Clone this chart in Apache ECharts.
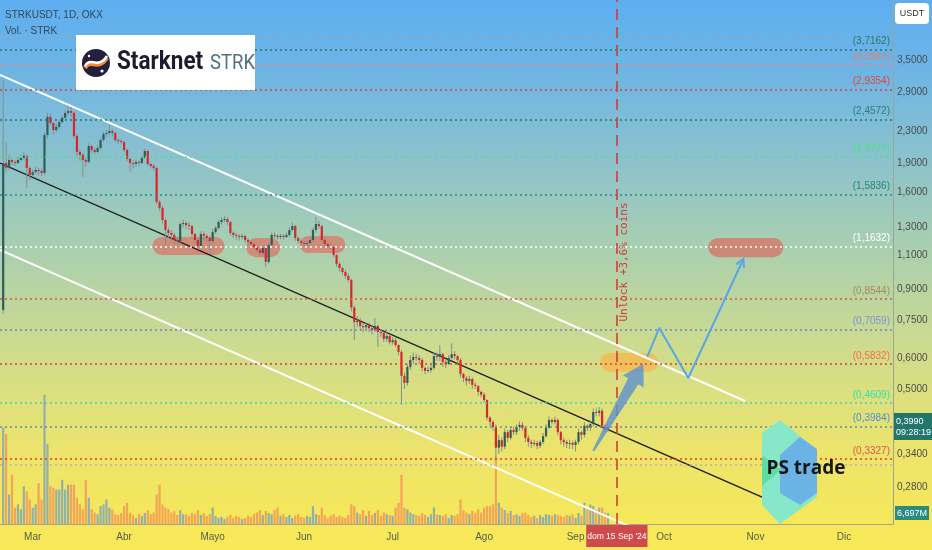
<!DOCTYPE html>
<html><head><meta charset="utf-8">
<script src="https://cdn.jsdelivr.net/npm/echarts@6/dist/echarts.min.js"></script>
<style>
html,body{margin:0;padding:0;background:#f8e95a;}
#c{width:932px;height:550px;background:linear-gradient(to bottom,#5eaef0 0%,#6cb4e6 12%,#88c0cf 27%,#a9cfb0 45%,#cfdc8c 64%,#ece46c 82%,#f6e85a 95%,#f8e95a 100%);}
</style></head><body><div id="c"></div>
<script>
// day index relative to 2024-03-01; first candle = 2024-02-20
const firstDay = -10;
// [open, close, low, high]
const candles = [
[0.797,1.903,0.78,3.109],[1.903,1.85,1.80,2.154],[1.85,1.937,1.83,2.00],[1.937,1.915,1.88,1.96],[1.915,1.903,1.87,1.94],
[1.903,1.937,1.89,1.97],[1.937,1.962,1.92,2.00],[1.962,1.985,1.94,2.03],[1.985,1.848,1.64,2.00],[1.848,1.773,1.72,1.86],
[1.773,1.804,1.75,1.83],[1.804,1.826,1.78,1.86],[1.826,1.815,1.77,1.85],[1.815,1.794,1.76,1.84],[1.794,2.246,1.77,2.28],
[2.246,2.501,2.20,2.559],[2.501,2.411,2.38,2.55],[2.411,2.313,2.25,2.42],[2.313,2.355,2.28,2.40],[2.355,2.425,2.33,2.45],
[2.425,2.487,2.40,2.52],[2.487,2.559,2.47,2.60],[2.559,2.588,2.52,2.67],[2.588,2.559,2.50,2.65],[2.559,2.233,2.20,2.57],
[2.233,2.031,1.98,2.25],[2.031,1.996,1.93,2.06],[1.996,1.937,1.752,2.02],[1.937,1.915,1.86,1.96],[1.915,2.104,1.90,2.14],
[2.104,2.055,2.02,2.12],[2.055,2.031,2.00,2.08],[2.031,2.079,2.01,2.11],[2.079,2.180,2.06,2.21],[2.180,2.260,2.16,2.29],
[2.260,2.273,2.22,2.31],[2.273,2.300,2.24,2.383],[2.300,2.273,2.23,2.33],[2.273,2.180,2.15,2.29],[2.180,2.167,2.13,2.20],
[2.167,2.154,2.12,2.19],[2.154,2.055,2.03,2.17],[2.055,1.950,1.92,2.07],[1.950,1.903,1.804,1.96],[1.903,1.892,1.84,1.93],
[1.892,1.915,1.86,1.94],[1.915,1.903,1.87,1.93],[1.903,1.962,1.89,1.98],[1.962,2.043,1.95,2.07],[2.043,1.892,1.87,2.06],
[1.892,1.870,1.84,1.91],[1.870,1.848,1.82,1.89],[1.848,1.511,1.49,1.86],[1.511,1.459,1.43,1.53],[1.459,1.358,1.33,1.48],
[1.358,1.280,1.137,1.37],[1.280,1.258,1.22,1.30],[1.258,1.243,1.21,1.28],[1.243,1.206,1.18,1.26],[1.206,1.199,1.17,1.23],
[1.199,1.326,1.19,1.34],[1.326,1.334,1.30,1.36],[1.334,1.318,1.29,1.35],[1.318,1.310,1.28,1.34],[1.310,1.250,1.23,1.32],
[1.250,1.206,1.18,1.26],[1.206,1.164,1.14,1.22],[1.164,1.250,1.15,1.27],[1.250,1.236,1.21,1.27],[1.236,1.221,1.19,1.25],
[1.221,1.199,1.124,1.24],[1.199,1.265,1.18,1.29],[1.265,1.295,1.25,1.31],[1.295,1.342,1.28,1.36],[1.342,1.358,1.32,1.38],
[1.358,1.366,1.34,1.39],[1.366,1.342,1.32,1.38],[1.342,1.258,1.24,1.35],[1.258,1.243,1.22,1.27],[1.243,1.236,1.21,1.26],
[1.236,1.228,1.20,1.25],[1.228,1.236,1.21,1.25],[1.236,1.206,1.19,1.24],[1.206,1.192,1.17,1.22],[1.192,1.178,1.16,1.20],
[1.178,1.157,1.14,1.19],[1.157,1.137,1.12,1.17],[1.137,1.117,1.10,1.15],[1.117,1.151,1.10,1.17],[1.151,1.059,1.028,1.16],
[1.059,1.171,1.05,1.19],[1.171,1.243,1.16,1.26],[1.243,1.236,1.22,1.26],[1.236,1.228,1.21,1.25],[1.228,1.236,1.21,1.25],
[1.236,1.228,1.21,1.25],[1.228,1.243,1.22,1.26],[1.243,1.280,1.23,1.30],[1.280,1.310,1.27,1.34],[1.310,1.221,1.20,1.32],
[1.221,1.199,1.18,1.23],[1.199,1.185,1.17,1.21],[1.185,1.178,1.16,1.20],[1.178,1.185,1.16,1.20],[1.185,1.206,1.17,1.22],
[1.206,1.280,1.19,1.30],[1.280,1.326,1.26,1.383],[1.326,1.310,1.29,1.35],[1.310,1.206,1.19,1.32],[1.206,1.178,1.16,1.22],
[1.178,1.164,1.15,1.19],[1.164,1.157,1.14,1.18],[1.157,1.104,1.09,1.17],[1.104,1.047,1.03,1.11],[1.047,1.022,1.00,1.06],
[1.022,0.998,0.98,1.03],[0.998,0.975,0.96,1.01],[0.975,0.952,0.94,0.99],[0.952,0.809,0.79,0.96],[0.809,0.742,0.667,0.82],
[0.742,0.748,0.72,0.77],[0.748,0.725,0.71,0.76],[0.725,0.720,0.70,0.74],[0.720,0.729,0.71,0.74],[0.729,0.716,0.70,0.74],
[0.716,0.708,0.69,0.73],[0.708,0.725,0.70,0.76],[0.725,0.700,0.640,0.73],[0.700,0.696,0.68,0.71],[0.696,0.672,0.66,0.70],
[0.672,0.684,0.66,0.70],[0.684,0.659,0.65,0.69],[0.659,0.667,0.65,0.68],[0.667,0.648,0.64,0.68],[0.648,0.622,0.61,0.65],
[0.622,0.540,0.455,0.63],[0.540,0.518,0.50,0.55],[0.518,0.569,0.51,0.58],[0.569,0.593,0.56,0.61],[0.593,0.604,0.58,0.62],
[0.604,0.600,0.59,0.615],[0.600,0.593,0.58,0.61],[0.593,0.566,0.555,0.60],[0.566,0.556,0.545,0.57],[0.556,0.559,0.55,0.57],
[0.559,0.566,0.55,0.58],[0.566,0.607,0.56,0.62],[0.607,0.604,0.59,0.62],[0.604,0.614,0.59,0.648],[0.614,0.586,0.57,0.62],
[0.586,0.579,0.565,0.595],[0.579,0.600,0.575,0.61],[0.600,0.614,0.595,0.655],[0.614,0.607,0.595,0.625],[0.607,0.593,0.58,0.61],
[0.593,0.546,0.535,0.60],[0.546,0.533,0.52,0.55],[0.533,0.524,0.51,0.54],[0.524,0.530,0.515,0.54],[0.530,0.512,0.50,0.535],
[0.512,0.509,0.50,0.52],[0.509,0.491,0.48,0.51],[0.491,0.483,0.475,0.495],[0.483,0.468,0.46,0.49],[0.468,0.422,0.415,0.47],
[0.422,0.411,0.40,0.425],[0.411,0.399,0.39,0.415],[0.399,0.353,0.33,0.405],[0.353,0.369,0.34,0.38],[0.369,0.355,0.345,0.375],
[0.355,0.387,0.35,0.395],[0.387,0.374,0.365,0.392],[0.374,0.392,0.37,0.40],[0.392,0.387,0.38,0.40],[0.387,0.399,0.38,0.405],
[0.399,0.404,0.39,0.412],[0.404,0.397,0.39,0.41],[0.397,0.374,0.365,0.40],[0.374,0.365,0.355,0.38],[0.365,0.361,0.352,0.37],
[0.361,0.363,0.355,0.37],[0.363,0.357,0.35,0.368],[0.357,0.365,0.352,0.37],[0.365,0.378,0.36,0.385],[0.378,0.397,0.375,0.405],
[0.397,0.416,0.395,0.425],[0.416,0.411,0.405,0.42],[0.411,0.416,0.405,0.425],[0.416,0.387,0.38,0.42],[0.387,0.369,0.36,0.39],
[0.369,0.365,0.355,0.375],[0.365,0.361,0.352,0.37],[0.361,0.363,0.35,0.37],[0.363,0.359,0.35,0.368],[0.359,0.365,0.345,0.37],
[0.365,0.387,0.36,0.395],[0.387,0.381,0.37,0.39],[0.381,0.402,0.375,0.41],[0.402,0.397,0.39,0.405],[0.397,0.406,0.39,0.415],
[0.406,0.436,0.40,0.445],[0.436,0.434,0.425,0.445],[0.434,0.439,0.425,0.449],[0.439,0.402,0.395,0.445],[0.402,0.392,0.388,0.405],
[0.392,0.399,0.388,0.405]
];
// volume, millions of STRK
const volumes = [
59,55,18,30,10,12,9,23,20,15,
10,12,25,15,79,49,23,22,21,21,
27,21,24,24,24,16,12,9,27,16,
9,7,6,11,12,15,10,9,6,5.5,
6.7,11,13,7,5.5,3.7,6,5,6.7,8.5,
6,7,18,24,12,10,9,7,8,5.5,
8.5,6,6,5,6.7,6,8.5,5.5,6.7,5,
6,10,5,3.7,4.3,3,4.3,5.5,3.7,5,
4.3,3,3.7,5,4.3,6,7,8.5,5.5,8,
6.7,6,8.5,10,5,6,4.3,5.5,3.7,5,
6,4.3,3.7,5,4.3,11,6,5.5,10,5.5,
3.7,5,6,4.3,5,4.3,3.7,5.5,12,11,
7,6,8.5,5,8,5.5,6.7,8.5,5,7,
6,5.5,5,10,13,30,10,9,7,6,
5.5,5,6.7,5.5,4.3,6,10,6,5.5,5,
6,3.7,5.5,5,6,15,8.5,7,6,8,
6.7,9,7,10,11,11,12,41,13,10,
8.5,6.7,8,5.5,6,5,6.7,7,5.5,4.3,
5,3.7,5.5,4.3,6,5.5,5,6,5.5,5,
4.3,5.5,5,6,3.7,6.7,5,13,9,12,
11,8.5,10,10,7,6.697
];
const monthTicks = [0,31,61,92,122,153,184,214,245,275];
const monthLabels = ['Mar','Abr','Mayo','Jun','Jul','Ago','Sep','Oct','Nov','Dic'];
const priceTicks = [3.5,2.9,2.3,1.9,1.6,1.3,1.1,0.9,0.75,0.6,0.5,0.42,0.34,0.28];
const levels = [4.01,3.7162,3.3961,2.9354,2.4572,1.9727,1.5836,1.1632,0.8544,0.7059,0.5832,0.4609,0.3984,0.3327,0.317];
const levelShowLabel = [false,true,true,true,true,true,true,true,true,true,true,true,true,true,false];
const upperChannel = [[-11.08,3.203],[241.5,0.4652]];
const middleChannel = [[-11.08,1.902],[250.7,0.2565]];
const lowerChannel = [[-11.08,1.137],[205,0.217]];
const zigzag = [[208.3,0.604],[212.4,0.717],[222.2,0.533],[240.9,1.078]];
const bigArrow = [[189.7,0.3473],[201.8,0.532],[200.1,0.5415],[207.0,0.5792],[207.1,0.5043],[205.3,0.5134],[190.3,0.3452]];
// [dayFrom, dayTo, priceTop, priceBottom]
const zones = [[40.6,65.0,1.228,1.104],[72.4,83.9,1.221,1.09],[90.5,106.0,1.236,1.117],[229.0,254.4,1.221,1.09],[192.4,212.0,0.618,0.553]];
const unlockDay = 198;
const lastPrice = 0.399;
const lastVolume = 6.697;

// styles
const levelLineColors = ['#a3a9ab','#1f7a6c','#e8867a','#e03a3a','#1f7a6c','#4de08e','#2a8a86','#ffffff','#d65a4a','#6f86c4','#e53b3b','#3ad8b6','#5c90b4','#e03a3a','#b8b49c'];
const levelLabelColors = ['#888','#23786d','#e57f6e','#d84a3f','#2a7f7a','#4ee08a','#2a857f','#ffffff','#a38c5e','#7e92d4','#ff6a45','#2fdfae','#4e8fd6','#e0564e','#888'];
const zoneColors = ['rgba(214,128,110,0.85)','rgba(214,128,110,0.85)','rgba(214,128,110,0.85)','rgba(210,125,108,0.85)','rgba(246,184,80,0.8)'];
const FONT = "'Liberation Sans Narrow','Liberation Sans',Arial,sans-serif";
const NONE = 'rgba(0,0,0,0)';
const comma = v => v.toFixed(4).replace('.', ',');

const chart = echarts.init(document.getElementById('c'), null, {renderer:'canvas'});

const levelMarks = levels.map((v,i) => ({
  yAxis: v,
  lineStyle: {color: levelLineColors[i], type: [2,3], width: 1.6},
  label: {show: levelShowLabel[i], position: 'insideEndTop', distance: 3,
    formatter: '(' + comma(v) + ')', color: levelLabelColors[i], fontSize: 10, fontFamily: FONT}
}));

const option = {
  animation: false,
  backgroundColor: 'transparent',
  grid: {left: 0, right: 39, top: 0, bottom: 26, containLabel: false},
  xAxis: {
    type: 'value', min: -11.08, max: 291.6,
    axisLine: {show: true, onZero: false, lineStyle: {color: '#a6a68a', width: 1}},
    axisTick: {show: false}, splitLine: {show: false},
    axisLabel: {customValues: monthTicks, formatter: v => monthLabels[monthTicks.indexOf(v)],
      color: '#5b5b4a', fontSize: 10, fontFamily: FONT, margin: 8}
  },
  yAxis: [{
    type: 'log', position: 'right', min: 0.2247, max: 4.992,
    axisLine: {show: true, onZero: false, lineStyle: {color: '#9aa59a'}},
    axisTick: {show: false}, splitLine: {show: false},
    axisLabel: {customValues: priceTicks, formatter: v => comma(v),
      color: '#4c4c4c', fontSize: 10, fontFamily: FONT, margin: 4}
  }, {
    type: 'value', position: 'right', min: 0, max: 320, show: false,
    axisLine: {show: false, onZero: false},
    splitLine: {show: false}
  }],
  series: [
    {
      type: 'custom', name: 'zones', z: 1, clip: true,
      data: zones,
      renderItem: (params, api) => {
        const a = api.coord([api.value(0), api.value(2)]);
        const b = api.coord([api.value(1), api.value(3)]);
        const x = Math.min(a[0], b[0]), y = Math.min(a[1], b[1]);
        const w = Math.abs(b[0]-a[0]), h = Math.abs(b[1]-a[1]);
        return {type: 'rect', shape: {x, y, width: w, height: h, r: h/2}, style: {fill: zoneColors[params.dataIndex]}};
      }
    },
    {
      type: 'bar', name: 'Vol', xAxisIndex: 0, yAxisIndex: 1, barWidth: 2.2, z: 2,
      data: volumes.map((v,i) => ({value: [firstDay+i, v],
        itemStyle: {color: candles[i][1] >= candles[i][0] ? '#93b0a6' : '#f4a458'}})),
      markLine: {
        silent: true, symbol: ['none','none'],
        data: [{yAxis: lastVolume, lineStyle: {color: NONE, width: 0},
          label: {show: true, position: 'end', distance: 2, formatter: '6,697M', color: '#fff', backgroundColor: '#2a8b80',
            padding: [3,2,2,2], fontSize: 9, fontFamily: FONT}}]
      }
    },
    {
      type: 'line', name: 'upper', data: upperChannel, symbol: 'none', z: 3,
      lineStyle: {color: '#ffffff', width: 2},
      markLine: {
        silent: true, symbol: ['none','none'],
        data: levelMarks.concat([
          {xAxis: unlockDay, lineStyle: {color: '#c63a34', type: [11,7], width: 1.5},
            label: {show: true, position: 'insideMiddleBottom', distance: 2, formatter: 'Unlock +3,6% coins',
              color: '#d4383a', fontSize: 11, fontFamily: "'DejaVu Sans Mono',monospace"}},
          {xAxis: unlockDay, lineStyle: {color: NONE, width: 0},
            label: {show: true, position: 'start', distance: 1, formatter: "dom 15 Sep '24", color: '#fff',
              backgroundColor: '#cf4a4a', padding: [7,1,6,1], fontSize: 8.5, fontFamily: FONT}},
          {yAxis: lastPrice, lineStyle: {color: NONE, width: 0},
            label: {show: true, position: 'end', distance: 1, formatter: '0,3990\n09:28:19', color: '#fff',
              backgroundColor: '#23766c', padding: [3,1,2,2], lineHeight: 11, fontSize: 9, fontFamily: FONT}}
        ])
      }
    },
    {type: 'line', name: 'middle', data: middleChannel, symbol: 'none', z: 3, lineStyle: {color: '#1c1c1c', width: 1.4}},
    {type: 'line', name: 'lower', data: lowerChannel, symbol: 'none', z: 3, lineStyle: {color: '#ffffff', width: 2}},
    {
      type: 'custom', name: 'STRKUSDT', z: 4, clip: true,
      data: candles.map((c,i) => [firstDay+i, c[0], c[1], c[2], c[3]]),
      encode: {x: 0, y: [1,2,3,4]},
      renderItem: (params, api) => {
        const d = api.value(0), o = api.value(1), c = api.value(2), l = api.value(3), h = api.value(4);
        const po = api.coord([d, o]), pc = api.coord([d, c]), pl = api.coord([d, l]), ph = api.coord([d, h]);
        const up = c >= o, w = 2.2;
        const top = Math.min(po[1], pc[1]), bot = Math.max(po[1], pc[1]);
        return {type: 'group', children: [
          {type: 'line', shape: {x1: pl[0], y1: pl[1], x2: ph[0], y2: ph[1]}, style: {stroke: '#7f9090', lineWidth: 1}},
          {type: 'rect', shape: {x: po[0]-w/2, y: top, width: w, height: Math.max(1, bot-top)}, style: {fill: up ? '#2f5d5c' : '#d8262c'}}
        ]};
      }
    },
    {
      type: 'custom', name: 'arrow', z: 5, clip: false,
      data: [0],
      renderItem: (params, api) => ({type: 'polygon', shape: {points: bigArrow.map(p => api.coord(p))},
        style: {fill: 'rgba(96,146,204,0.82)'}})
    },
    {type: 'line', name: 'path', data: zigzag, symbol: 'none', z: 5, lineStyle: {color: '#58a6e6', width: 2}},
    {
      type: 'custom', name: 'pathHead', z: 5,
      data: [0],
      renderItem: (params, api) => {
        const p = api.coord(zigzag[zigzag.length-2]), q = api.coord(zigzag[zigzag.length-1]);
        const ang = Math.atan2(q[1]-p[1], q[0]-p[0]), len = 9;
        const a1 = ang + Math.PI - 0.5, a2 = ang + Math.PI + 0.5;
        return {type: 'polyline', shape: {points: [[q[0]+len*Math.cos(a1), q[1]+len*Math.sin(a1)], q, [q[0]+len*Math.cos(a2), q[1]+len*Math.sin(a2)]]},
          style: {stroke: '#58a6e6', lineWidth: 2, fill: null}};
      }
    }
  ],
  graphic: [
    {type: 'text', x: 5, y: 10, style: {text: 'STRKUSDT, 1D, OKX', fill: '#34495a', font: "10px " + FONT}},
    {type: 'text', x: 5, y: 26, style: {text: 'Vol. · STRK', fill: '#34495a', font: "10px " + FONT}},
    {type: 'rect', shape: {x: 895, y: 3, width: 34, height: 21, r: 4}, style: {fill: '#ffffff'}, z: 100},
    {type: 'text', x: 912, y: 14, style: {text: 'USDT', fill: '#333', font: "9px " + FONT, align: 'center', verticalAlign: 'middle'}, z: 101},
    {type: 'rect', shape: {x: 76, y: 35, width: 179, height: 55}, style: {fill: '#ffffff'}, z: 100},
    {type: 'circle', shape: {cx: 96, cy: 63, r: 14}, style: {fill: '#251f3f'}, z: 101},
    {type: 'bezierCurve', shape: {x1: 85, y1: 68, cpx1: 90, cpy1: 58, cpx2: 98, cpy2: 72, x2: 107, y2: 58}, style: {stroke: '#f08a3c', lineWidth: 4, fill: null}, z: 102},
    {type: 'bezierCurve', shape: {x1: 85, y1: 66, cpx1: 90, cpy1: 56, cpx2: 98, cpy2: 70, x2: 107, y2: 56}, style: {stroke: '#ffffff', lineWidth: 2.5, fill: null}, z: 103},
    {type: 'circle', shape: {cx: 102, cy: 71, r: 1.6}, style: {fill: '#ffffff'}, z: 103},
    {type: 'circle', shape: {cx: 89, cy: 56, r: 1.2}, style: {fill: '#ffffff'}, z: 103},
    {type: 'text', x: 117, y: 63, scaleX: 0.9, originX: 0, style: {text: 'Starknet', fill: '#1e1b2e', font: "bold 25px Roboto, sans-serif", verticalAlign: 'middle'}, z: 103},
    {type: 'text', x: 210, y: 64, scaleX: 0.88, originX: 0, style: {text: 'STRK', fill: '#52707e', font: "21px Roboto, sans-serif", verticalAlign: 'middle'}, z: 103},
    {type: 'polygon', shape: {points: [[780,420],[817,450],[817,497],[780,524],[762,505],[762,433]]}, style: {fill: '#86e8c8'}, z: 100},
    {type: 'polygon', shape: {points: [[800,437],[817,449],[817,493],[800,505],[780,493],[780,455]]}, style: {fill: 'rgba(104,172,232,0.9)'}, z: 101},
    {type: 'polygon', shape: {points: [[762,455],[781,470],[762,486]]}, style: {fill: '#5fdea3'}, z: 101},
    {type: 'text', x: 806, y: 469, style: {text: 'PS trade', fill: '#16161a', font: "bold 19px 'Open Sans', sans-serif", align: 'center', verticalAlign: 'middle'}, z: 103}
  ]
};
chart.setOption(option);
</script></body></html>
